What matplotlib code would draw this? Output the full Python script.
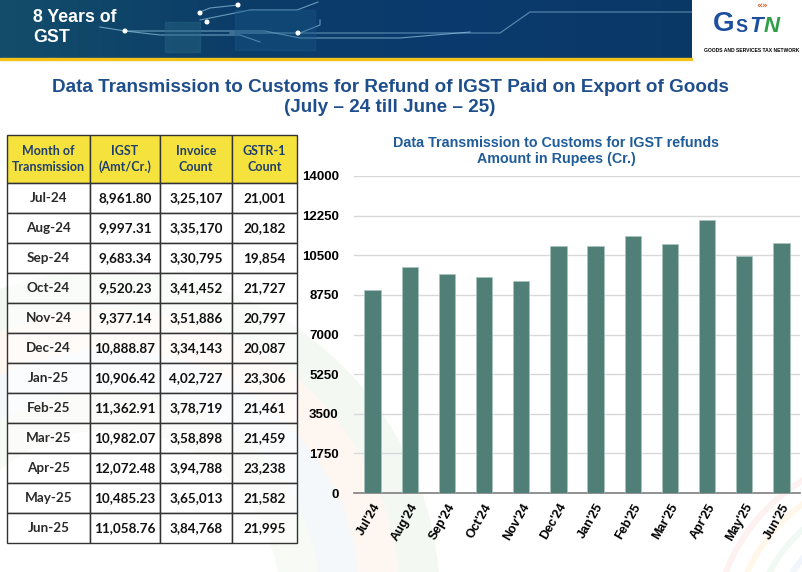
import numpy as np
import matplotlib
matplotlib.use('Agg')
import matplotlib.pyplot as plt
from matplotlib.patches import Rectangle, Wedge, Circle

# Dados
meses = ['Jul-24', 'Aug-24', 'Sep-24', 'Oct-24', 'Nov-24', 'Dec-24',
         'Jan-25', 'Feb-25', 'Mar-25', 'Apr-25', 'May-25', 'Jun-25']
igst = [8961.80, 9997.31, 9683.34, 9520.23, 9377.14, 10888.87,
        10906.42, 11362.91, 10982.07, 12072.48, 10485.23, 11058.76]
invoice = ['3,25,107', '3,35,170', '3,30,795', '3,41,452', '3,51,886', '3,34,143',
           '4,02,727', '3,78,719', '3,58,898', '3,94,788', '3,65,013', '3,84,768']
gstr1 = ['21,001', '20,182', '19,854', '21,727', '20,797', '20,087',
         '23,306', '21,461', '21,459', '23,238', '21,582', '21,995']
rotulos_x = ["Jul'24", "Aug'24", "Sep'24", "Oct'24", "Nov'24", "Dec'24",
             "Jan'25", "Feb'25", "Mar'25", "Apr'25", "May'25", "Jun'25"]
cabecalho = ['Month of\nTransmission', 'IGST\n(Amt/Cr.)', 'Invoice\nCount', 'GSTR-1\nCount']
yticks = [0, 1750, 3500, 5250, 7000, 8750, 10500, 12250, 14000]

W, H = 803, 572
fig = plt.figure(figsize=(W/100, H/100), dpi=100)

# Fundo em coordenadas de pixel
bg = fig.add_axes([0, 0, 1, 1])
bg.set_xlim(0, W)
bg.set_ylim(H, 0)
bg.axis('off')

# Arcos decorativos (bem claros)
for r, c in zip([330, 290, 250, 210], ['#d8ead8', '#fbe3d3', '#dbe9f5', '#e6f0e0']):
    bg.add_patch(Wedge((110, 600), r, 180, 360, width=40, color=c, alpha=0.3, lw=0))
for r, c in zip([190, 170, 150, 130, 110], ['#fde4e4', '#fff3d6', '#e4f4ec', '#e2eff8', '#f3e6f3']):
    bg.add_patch(Wedge((900, 640), r, 150, 270, width=6, color=c, alpha=0.5, lw=0))

# Faixa superior
grad = np.linspace(0, 1, 256).reshape(1, -1)
cmap = matplotlib.colors.LinearSegmentedColormap.from_list('b', ['#134d6b', '#0c3d68', '#0a3a6e', '#0b3866'])
bg.imshow(grad, extent=[0, 692, 58, 0], cmap=cmap, aspect='auto', zorder=1)
bg.add_patch(Rectangle((0, 58), 692, 2, color='#f2c21b', zorder=2))
# linhas de circuito
cl = '#8fc3e0'
bg.plot([100, 125, 265, 300, 400, 470], [27, 31, 31, 38, 38, 32], color=cl, lw=0.8, alpha=0.7, zorder=2)
bg.plot([200, 210, 238], [12, 8, 5], color=cl, lw=0.8, alpha=0.7, zorder=2)
bg.plot([125, 160, 240, 260], [31, 35, 35, 42], color=cl, lw=0.8, alpha=0.7, zorder=2)
bg.plot([200, 250, 297, 318], [20, 10, 10, 2], color=cl, lw=0.8, alpha=0.7, zorder=2)
bg.plot([230, 300, 320, 320], [33, 33, 25, 20], color=cl, lw=0.8, alpha=0.7, zorder=2)
bg.plot([300, 330, 500, 530, 692], [33, 33, 33, 12, 12], color=cl, lw=0.8, alpha=0.6, zorder=2)
for px, py in [(125, 31), (200, 13), (238, 5), (207, 22), (298, 33)]:
    bg.add_patch(Circle((px, py), 1.8, color='white', zorder=3))
bg.add_patch(Rectangle((165, 22), 35, 30, color='#2a6a86', alpha=0.4, zorder=2))
bg.add_patch(Rectangle((235, 10), 80, 40, color='#1b5a8a', alpha=0.35, zorder=2))
bg.text(33, 17, '8 Years of', color='white', fontsize=12.8, fontweight='bold',
        family='Liberation Sans', va='center', zorder=4)
bg.text(33, 38, 'GST', color='white', fontsize=12.8, fontweight='bold',
        family='Liberation Sans', va='center', zorder=4)

# Logo
bg.text(724, 24, 'G', color='#1d4f9f', fontsize=20, fontweight='bold',
        family='Liberation Sans', ha='center', va='center', zorder=4)
bg.text(742, 27, 'S', color='#1d4f9f', fontsize=13, fontweight='bold',
        family='Liberation Sans', ha='center', va='center', zorder=5)
bg.text(756, 26, 'T', color='#1d4f9f', fontsize=16, fontweight='bold', style='italic',
        family='Liberation Sans', ha='center', va='center', zorder=4)
bg.text(772, 26, 'N', color='#2f9e47', fontsize=16, fontweight='bold', style='italic',
        family='Liberation Sans', ha='center', va='center', zorder=4)
bg.text(762, 6, '\u00ab\u00bb', color='#e8632a', fontsize=6.5, fontweight='bold',
        ha='center', va='center', zorder=4)
bg.text(752, 50, 'GOODS AND SERVICES TAX NETWORK', color='black', fontsize=3.6,
        fontweight='bold', family='Liberation Sans', ha='center', va='center', zorder=4)

# Titulo
cor_tit = '#1f4e8c'
bg.text(390, 87, 'Data Transmission to Customs for Refund of IGST Paid on Export of Goods',
        color=cor_tit, fontsize=13.6, fontweight='bold', family='Liberation Sans',
        ha='center', va='center')
bg.text(390, 107, '(July \u2013 24 till June \u2013 25)', color=cor_tit, fontsize=13.6,
        fontweight='bold', family='Liberation Sans', ha='center', va='center')

# Tabela
xs = [7, 90, 160, 232, 297]
y0, yh, rh = 135, 183, 30
for j in range(4):
    bg.add_patch(Rectangle((xs[j], y0), xs[j+1]-xs[j], yh-y0, facecolor='#f6e23c',
                           edgecolor='#333333', lw=1, zorder=3))
    bg.text((xs[j]+xs[j+1])/2, (y0+yh)/2, cabecalho[j], color='#1f3f6e', fontsize=9,
            fontweight='bold', family='Lato', ha='center', va='center',
            linespacing=1.35, zorder=4)
for i in range(len(meses)):
    top = yh + i*rh
    linha = [meses[i], f'{igst[i]:,.2f}', invoice[i], gstr1[i]]
    for j in range(4):
        bg.add_patch(Rectangle((xs[j], top), xs[j+1]-xs[j], rh, facecolor='white',
                               alpha=0.6, edgecolor='none', zorder=3))
        bg.add_patch(Rectangle((xs[j], top), xs[j+1]-xs[j], rh, facecolor='none',
                               edgecolor='#333333', lw=1, zorder=3))
        bg.text((xs[j]+xs[j+1])/2, top+rh/2, linha[j], color='#111111' if j else '#2a2a2a',
                fontsize=9.7, fontweight='bold', family='Lato', ha='center',
                va='center', zorder=4)

# Grafico de barras
ax = fig.add_axes([354/W, 1-493/H, (800-354)/W, (493-176)/H])
ax.patch.set_alpha(0)
x = np.arange(len(igst))
ax.bar(x, igst, width=0.44, color='#4f7f76', edgecolor='#a9c4be', lw=0.5, zorder=3)
ax.set_xlim(-0.5, len(igst)-0.5)
ax.set_ylim(0, 14000)
ax.set_yticks(yticks)
ax.set_yticklabels([str(v) for v in yticks], fontsize=9.5, fontweight='bold',
                   family='Liberation Sans')
ax.set_xticks(x)
ax.set_xticklabels(rotulos_x, rotation=60, ha='right', rotation_mode='anchor',
                   fontsize=9, fontweight='bold', family='Liberation Sans')
ax.grid(axis='y', color='#d9d9d9', lw=1, zorder=0)
ax.tick_params(length=0, pad=6)
ax.tick_params(axis='y', pad=11)
for s in ['top', 'right', 'left']:
    ax.spines[s].set_visible(False)
ax.spines['bottom'].set_color('#7f7f7f')
ax.spines['bottom'].set_linewidth(1.2)

bg.text(556, 143, 'Data Transmission to Customs for IGST refunds', color='#1f5c99',
        fontsize=10.3, fontweight='bold', family='Liberation Sans', ha='center', va='center')
bg.text(556, 159, 'Amount in Rupees (Cr.)', color='#1f5c99', fontsize=10.3,
        fontweight='bold', family='Liberation Sans', ha='center', va='center')

fig.savefig('out.png', dpi=100)
